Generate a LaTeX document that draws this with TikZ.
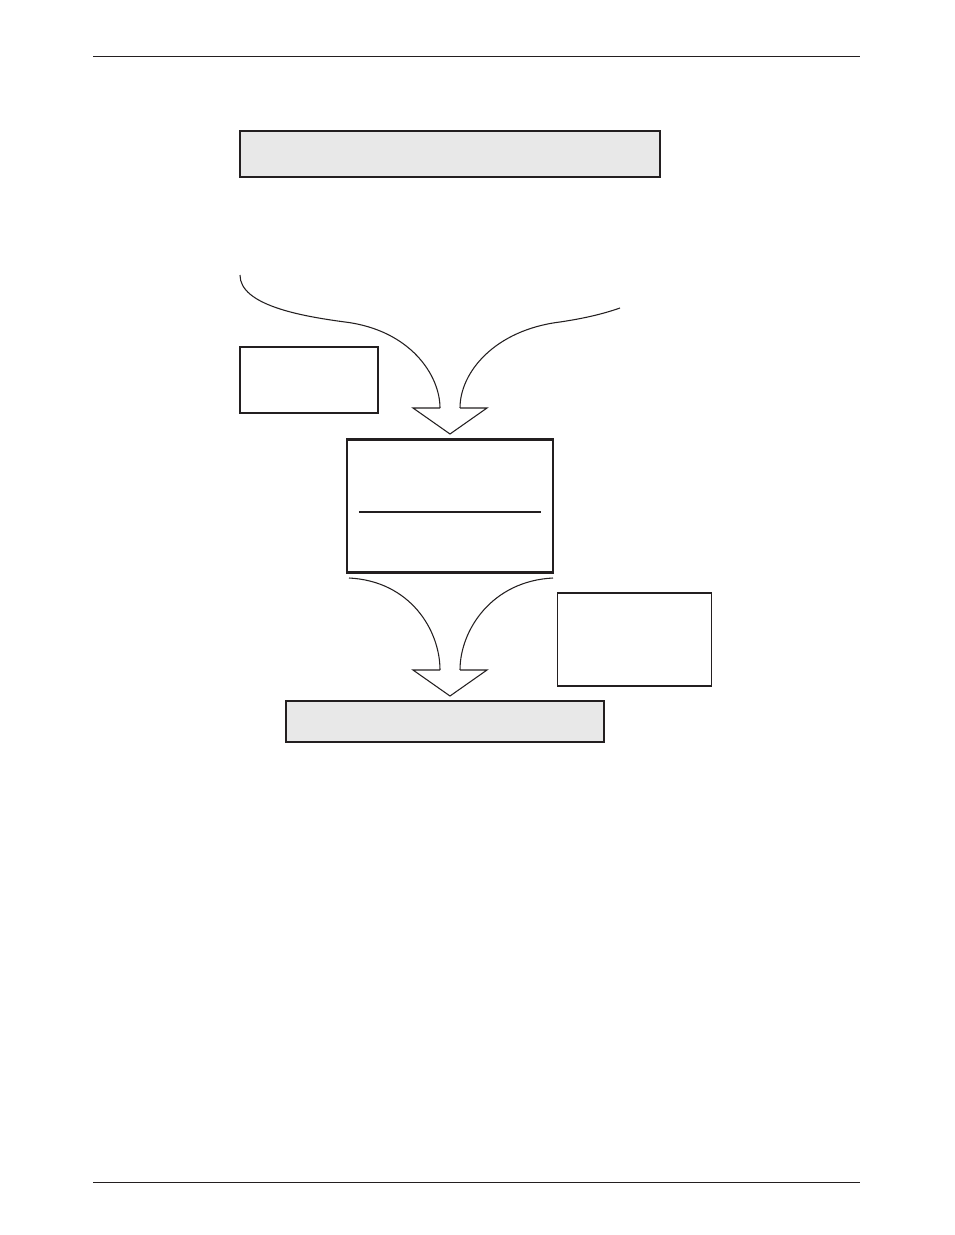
\documentclass[tikz,border=0pt]{standalone}
\usepackage{tikz}
\usetikzlibrary{calc}
\usetikzlibrary{arrows.meta, positioning}

\definecolor{boxgray}{RGB}{232,232,232}
\definecolor{inkgray}{RGB}{35,31,32}

\tikzset{
  plainbox/.style={draw=inkgray, line width=0.9pt, inner sep=0pt, fill=white},
  graybox/.style={draw=inkgray, line width=1.1pt, inner sep=0pt, fill=boxgray},
  heavybox/.style={draw=inkgray, line width=1.6pt, inner sep=0pt, fill=white},
  fatline/.style={draw=inkgray, line width=0.8pt}
}

\begin{document}
\begin{tikzpicture}[x=0.75pt,y=0.75pt,yscale=-1,xscale=1]
%set diagram to page size
\useasboundingbox (0,0) rectangle (954,1235);

%Straight Lines: page rules
\coordinate (ruleTL) at (93,56);
\coordinate (ruleTR) at (860,56);
\coordinate (ruleBL) at (93,1182);
\coordinate (ruleBR) at (860,1182);
\draw [inkgray, line width=0.6pt] (ruleTL) -- (ruleTR) ;
\draw [inkgray, line width=0.6pt] (ruleBL) -- (ruleBR) ;

%Shape: Rectangle top
\node [graybox, minimum width=315pt, minimum height=34.5pt] (topbar) at (450,154) {};
%Shape: Rectangle left note
\node [plainbox, minimum width=103.5pt, minimum height=49.5pt] (leftnote) at (309,380) {};
%Shape: Rectangle middle
\node [heavybox, minimum width=154.5pt, minimum height=99.75pt] (midbox) at (450,506) {};
\draw [inkgray, line width=0.8pt] ($(midbox.west)+(13,6)$) coordinate (divL) -- ($(midbox.east)+(-13,6)$) coordinate (divR) ;
%Shape: Rectangle right note
\node [plainbox, minimum width=115.5pt, minimum height=69.75pt] (rightnote) at (634.5,639.5) {};
%Shape: Rectangle bottom
\node [graybox, minimum width=238.5pt, minimum height=30.75pt] (botbar) at (445,721.5) {};

%Curve Lines: upper merging arrow
\coordinate (srcA) at (240,275);
\coordinate (srcB) at (620,308);
\coordinate (upL) at (440,408);
\coordinate (upR) at (460,408);
\coordinate (upTip) at (450,434);
\draw [fatline] (srcA) .. controls (240,305) and (300,316) .. (345,322) .. controls (410,330) and (440,375) .. (upL) ;
\draw [fatline] (srcB) .. controls (600,315) and (580,319) .. (560,322) .. controls (495,330) and (460,372) .. (upR) ;
\draw [fatline, fill=white, line join=miter] (upL) -- (413,408) -- (upTip) -- (487,408) -- (upR) ;

%Curve Lines: lower merging arrow
\coordinate (srcC) at (349,578);
\coordinate (srcD) at (553,578);
\coordinate (loL) at (440,670);
\coordinate (loR) at (460,670);
\coordinate (loTip) at (450,696);
\draw [fatline] (srcC) .. controls (410,581) and (440,630) .. (loL) ;
\draw [fatline] (srcD) .. controls (492,581) and (460,630) .. (loR) ;
\draw [fatline, fill=white, line join=miter] (loL) -- (413,670) -- (loTip) -- (487,670) -- (loR) ;

\end{tikzpicture}
\end{document}
